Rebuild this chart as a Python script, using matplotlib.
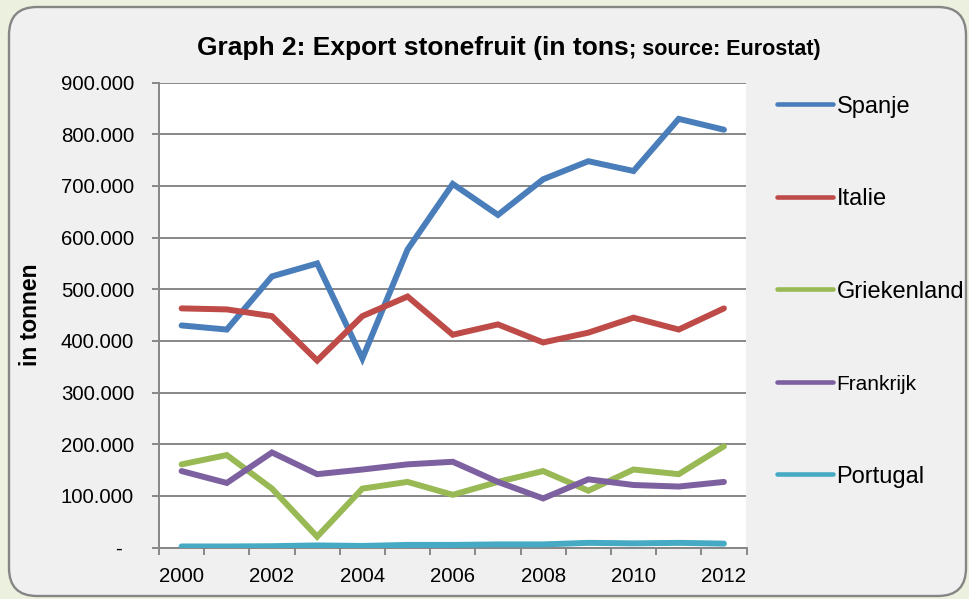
import matplotlib
matplotlib.use("Agg")
import matplotlib.pyplot as plt
from matplotlib.patches import FancyBboxPatch
from matplotlib.ticker import FixedLocator, FuncFormatter
from matplotlib.lines import Line2D
import numpy as np

plt.rcParams['font.family'] = ['Liberation Sans', 'DejaVu Sans']

years = list(range(2000, 2013))
spanje = [430000, 422000, 525000, 550000, 366000, 577000, 704000, 644000, 713000, 748000, 729000, 830000, 809000]
italie = [463000, 461000, 448000, 362000, 448000, 486000, 412000, 432000, 397000, 416000, 445000, 422000, 463000]
griekenland = [161000, 179000, 114000, 21000, 114000, 127000, 102000, 127000, 148000, 110000, 151000, 142000, 196000]
frankrijk = [148000, 125000, 184000, 142000, 151000, 161000, 166000, 127000, 95000, 132000, 121000, 118000, 127000]
portugal = [2000, 2000, 2500, 4000, 3000, 5000, 5000, 6000, 6000, 9000, 8000, 9000, 7500]

series_names = ['Spanje', 'Italie', 'Griekenland', 'Frankrijk', 'Portugal']
series_values = [spanje, italie, griekenland, frankrijk, portugal]
colors = ['#4A7EBB', '#BE4B48', '#98B954', '#7D60A0', '#46AAC5']
y_ticks = list(range(0, 900001, 100000))
x_label_years = list(range(2000, 2013, 2))

W, H = 970, 599
fig = plt.figure(figsize=(W / 100, H / 100), dpi=100)
fig.patch.set_facecolor('#EBF1DE')

# rounded panel (in inches)
panel = FancyBboxPatch((0.09, 0.03), 9.57, 5.89,
                       boxstyle="round,pad=0,rounding_size=0.28",
                       transform=fig.dpi_scale_trans,
                       facecolor='#F0F0F0', edgecolor='#858585', linewidth=1.7,
                       zorder=-10)
fig.patches.append(panel)

def px_x(x):
    return x / W

def px_y(y):
    return 1 - y / H

left, right, top, bottom = 159, 746.5, 82.7, 547.5
ax = fig.add_axes([px_x(left), px_y(bottom), (right - left) / W, (bottom - top) / H])
ax.set_zorder(5)
ax.set_facecolor('white')

lines = []
for name, vals, c in zip(series_names, series_values, colors):
    ln, = ax.plot(years, vals, color=c, lw=4.3, solid_capstyle='round',
                  solid_joinstyle='miter', zorder=3)
    lines.append(ln)

ax.set_xlim(1999.5, 2012.5)
ax.set_ylim(0, 900000)

ax.yaxis.set_major_locator(FixedLocator(y_ticks))
def yfmt(v, pos):
    if v == 0:
        return '-  '
    return f"{int(v):,}".replace(',', '.')
ax.yaxis.set_major_formatter(FuncFormatter(yfmt))
ax.grid(axis='y', color='#878787', lw=1.4, zorder=1)
ax.set_axisbelow(True)

ax.xaxis.set_major_locator(FixedLocator(x_label_years))
ax.xaxis.set_minor_locator(FixedLocator(np.arange(1999.5, 2013, 1.0)))
ax.tick_params(axis='x', which='major', length=0, pad=14, labelsize=14.7)
ax.tick_params(axis='x', which='minor', length=5, width=1.4, color='#878787', direction='out')
ax.tick_params(axis='y', length=5, width=1.4, color='#878787', pad=13, labelsize=14.7)

for s in ['top', 'right']:
    ax.spines[s].set_visible(False)
for s in ['left', 'bottom']:
    ax.spines[s].set_color('#878787')
    ax.spines[s].set_linewidth(1.4)

# y label
fig.text(px_x(31), px_y(315), 'in tonnen', rotation=90, ha='center', va='center',
         fontsize=16.5, fontweight='bold')

# title in two parts
t1 = fig.text(px_x(197), px_y(54.7), 'Graph 2: Export stonefruit (in tons',
              fontsize=19, fontweight='bold', ha='left', va='baseline')
fig.canvas.draw()
bb = t1.get_window_extent()
fig.text(bb.x1 / W, px_y(54.7), '; source: Eurostat)', fontsize=15.5,
         fontweight='bold', ha='left', va='baseline')

# legend entries
leg_y = np.linspace(106.7, 476.7, 5)
leg_sizes = [17, 17, 17, 15, 17]
for ln, name, c, yy, fs in zip(lines, series_names, colors, leg_y, leg_sizes):
    h = Line2D([], [], color=c, lw=3.3, solid_capstyle='round')
    fig.legend([h], [name], loc='center left',
               bbox_to_anchor=(px_x(777), px_y(yy)),
               frameon=False, borderpad=0, borderaxespad=0,
               handlelength=56 / (fs * 100 / 72), handletextpad=0.15,
               fontsize=fs)

fig.savefig('out.png', dpi=100, facecolor=fig.get_facecolor())
